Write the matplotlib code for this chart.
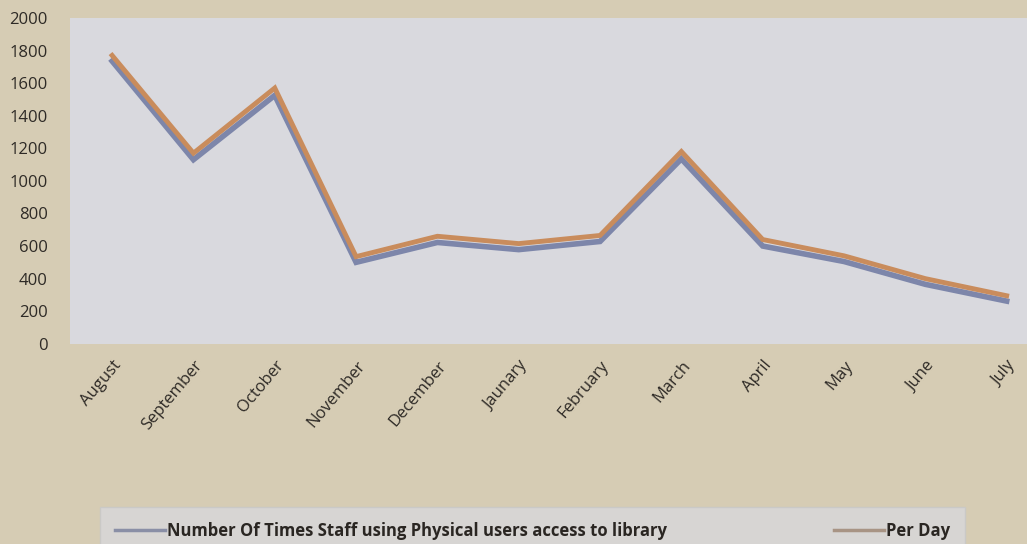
import matplotlib.pyplot as plt

months = ["August", "September", "October", "November", "December", "Jaunary",
          "February", "March", "April", "May", "June", "July"]
staff_access = [1735, 1130, 1525, 500, 622, 578, 628, 1135, 600, 505, 365, 262]
per_day = [1770, 1170, 1570, 535, 660, 615, 665, 1180, 640, 540, 400, 295]

plt.rcParams['font.family'] = ['Open Sans', 'DejaVu Sans']

fig = plt.figure(figsize=(10.27, 5.44), dpi=100)
fig.patch.set_facecolor('#d6ccb4')

ax = fig.add_axes([0.068, 0.368, 0.932, 0.599])
ax.set_facecolor('#d9d9de')

x = list(range(len(months)))
ax.plot(x, staff_access, color='#7d86aa', lw=4, solid_joinstyle='miter',
        label='Number Of Times Staff using Physical users access to library')
ax.plot(x, per_day, color='#c98c5c', lw=3.5, solid_joinstyle='miter',
        label='Per Day')

ax.set_ylim(0, 2000)
ax.set_yticks(range(0, 2001, 200))
ax.set_xlim(-0.52, 11.25)
ax.set_xticks(x)
ax.set_xticklabels(months, rotation=50, ha='right', rotation_mode='anchor')
ax.tick_params(axis='both', length=0, labelsize=12, colors='#2e2a26')
ax.tick_params(axis='y', pad=16)
ax.tick_params(axis='x', pad=10)
for s in ax.spines.values():
    s.set_visible(False)

leg = fig.legend(loc='lower left', bbox_to_anchor=(0.097, -0.02, 0.843, 0.11),
                 mode='expand', ncol=2, frameon=True, fancybox=False,
                 handlelength=3.0, handletextpad=0.15,
                 prop={'size': 12, 'weight': 'bold'},
                 borderpad=0.9, borderaxespad=0, columnspacing=6)
leg.get_frame().set_facecolor('#d8d8dc')
leg.get_frame().set_edgecolor('#c8c8c8')
leg.legend_handles[0].set_color('#8a8fa6')
leg.legend_handles[1].set_color('#a89484')
for h in leg.legend_handles:
    h.set_linewidth(2.5)
for t in leg.get_texts():
    t.set_color('#2a2622')

fig.savefig('out.png', dpi=100, facecolor=fig.get_facecolor())
